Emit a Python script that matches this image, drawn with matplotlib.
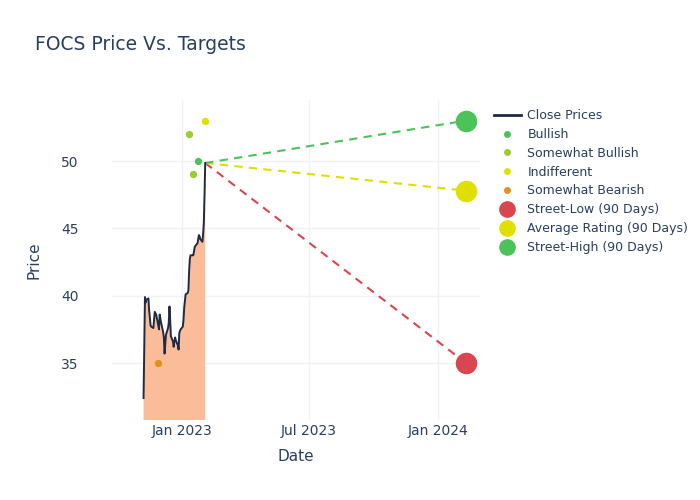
import matplotlib
matplotlib.use("Agg")
import matplotlib.pyplot as plt
from matplotlib.lines import Line2D
import pandas as pd

# ---- data ----
close_start = "2022-11-07"
close_prices = [32.4, 36.0, 39.9, 39.5, 39.7, 39.8, 38.9, 38.4, 37.8, 37.7,
                37.6, 38.2, 38.8, 38.7, 38.6, 37.8, 37.5, 38.6, 38.3, 38.0,
                37.3, 36.9, 35.7, 36.4, 37.1, 37.6, 38.0, 39.2, 38.2, 37.0,
                36.6, 36.2, 36.6, 36.9, 36.7, 36.3, 36.0, 37.2, 37.4, 37.5,
                37.7, 38.2, 39.1, 39.6, 40.1, 40.2, 40.4, 41.8, 42.7, 43.0,
                43.0, 43.0, 43.3, 43.6, 43.7, 43.9, 44.2, 44.5, 44.4, 44.2,
                44.0, 44.6, 45.4, 47.5, 49.85]

bullish_dates = ["2023-01-24"]
bullish_vals = [50.0]
sw_bullish_dates = ["2023-01-11", "2023-01-17"]
sw_bullish_vals = [52.0, 49.0]
indiff_dates = ["2023-02-03"]
indiff_vals = [53.0]
sw_bearish_dates = ["2022-11-27"]
sw_bearish_vals = [35.0]

target_date = "2024-02-10"
street_low = 35.0
avg_rating = 47.8
street_high = 53.0

x_ticks = ["2023-01-01", "2023-07-01", "2024-01-01"]
x_tick_labels = ["Jan 2023", "Jul 2023", "Jan 2024"]
y_ticks = [35, 40, 45, 50]

# ---- styles ----
TXT = "#2a3f5f"
GRID = "#f0f2f7"
C_LINE = "#1f2a44"
C_FILL = "#fbbd99"
C_BULL = "#4cc35a"
C_SWB = "#9acd32"
C_IND = "#e0e000"
C_SBEAR = "#e0921f"
C_LOW = "#d9464f"
C_AVG = "#e0e000"
C_HIGH = "#4cc35a"

dates = pd.bdate_range(close_start, periods=len(close_prices))
td = pd.Timestamp(target_date)

fig = plt.figure(figsize=(7, 5), dpi=100)
ax = fig.add_axes([0.16, 0.16, 0.5257, 0.64])

ax.fill_between(dates, close_prices, 0, color=C_FILL, linewidth=0, zorder=1)
ax.plot(dates, close_prices, color=C_LINE, linewidth=1.4, zorder=3)

last_d, last_p = dates[-1], close_prices[-1]
for val, col in [(street_low, C_LOW), (avg_rating, C_AVG), (street_high, C_HIGH)]:
    ax.plot([last_d, td], [last_p, val], color=col, linestyle=(0, (4, 3)),
            linewidth=1.5, zorder=2)

ax.scatter(pd.to_datetime(bullish_dates), bullish_vals, s=28, color=C_BULL, zorder=4, linewidths=0)
ax.scatter(pd.to_datetime(sw_bullish_dates), sw_bullish_vals, s=28, color=C_SWB, zorder=4, linewidths=0)
ax.scatter(pd.to_datetime(indiff_dates), indiff_vals, s=28, color=C_IND, zorder=4, linewidths=0)
ax.scatter(pd.to_datetime(sw_bearish_dates), sw_bearish_vals, s=28, color=C_SBEAR, zorder=4, linewidths=0)

ax.scatter([td], [street_low], s=240, color=C_LOW, zorder=5, linewidths=0)
ax.scatter([td], [avg_rating], s=240, color=C_AVG, zorder=5, linewidths=0)
ax.scatter([td], [street_high], s=240, color=C_HIGH, zorder=5, linewidths=0)

ax.set_xlim(pd.Timestamp("2022-09-23"), pd.Timestamp("2024-03-01"))
ax.set_ylim(30.77, 54.53)
ax.set_xticks(pd.to_datetime(x_ticks))
ax.set_xticklabels(x_tick_labels)
ax.set_yticks(y_ticks)
ax.grid(True, color=GRID, linewidth=1)
ax.set_axisbelow(True)
for s in ax.spines.values():
    s.set_visible(False)
ax.tick_params(colors=TXT, labelsize=10, length=0)
ax.tick_params(axis="x", pad=3)
ax.tick_params(axis="y", pad=24)
ax.set_xlabel("Date", color=TXT, fontsize=11, labelpad=8)
ax.set_ylabel("Price", color=TXT, fontsize=11, labelpad=14)

fig.text(0.05, 0.912, "FOCS Price Vs. Targets", color=TXT, fontsize=13.5, va="center")

handles = [
    Line2D([0], [0], color=C_LINE, lw=2),
    Line2D([0], [0], marker="o", color="none", markerfacecolor=C_BULL, markeredgecolor="none", markersize=5),
    Line2D([0], [0], marker="o", color="none", markerfacecolor=C_SWB, markeredgecolor="none", markersize=5),
    Line2D([0], [0], marker="o", color="none", markerfacecolor=C_IND, markeredgecolor="none", markersize=5),
    Line2D([0], [0], marker="o", color="none", markerfacecolor=C_SBEAR, markeredgecolor="none", markersize=5),
    Line2D([0], [0], marker="o", color="none", markerfacecolor=C_LOW, markeredgecolor="none", markersize=12),
    Line2D([0], [0], marker="o", color="none", markerfacecolor=C_AVG, markeredgecolor="none", markersize=12),
    Line2D([0], [0], marker="o", color="none", markerfacecolor=C_HIGH, markeredgecolor="none", markersize=12),
]
labels = ["Close Prices", "Bullish", "Somewhat Bullish", "Indifferent", "Somewhat Bearish",
          "Street-Low (90 Days)", "Average Rating (90 Days)", "Street-High (90 Days)"]
leg = fig.legend(handles, labels, loc="upper left", bbox_to_anchor=(0.698, 0.792),
                 frameon=False, fontsize=9, labelcolor=TXT, handlelength=2.2,
                 handletextpad=0.5, labelspacing=0.47, borderaxespad=0)

fig.savefig("out.png", dpi=100, facecolor="white")
